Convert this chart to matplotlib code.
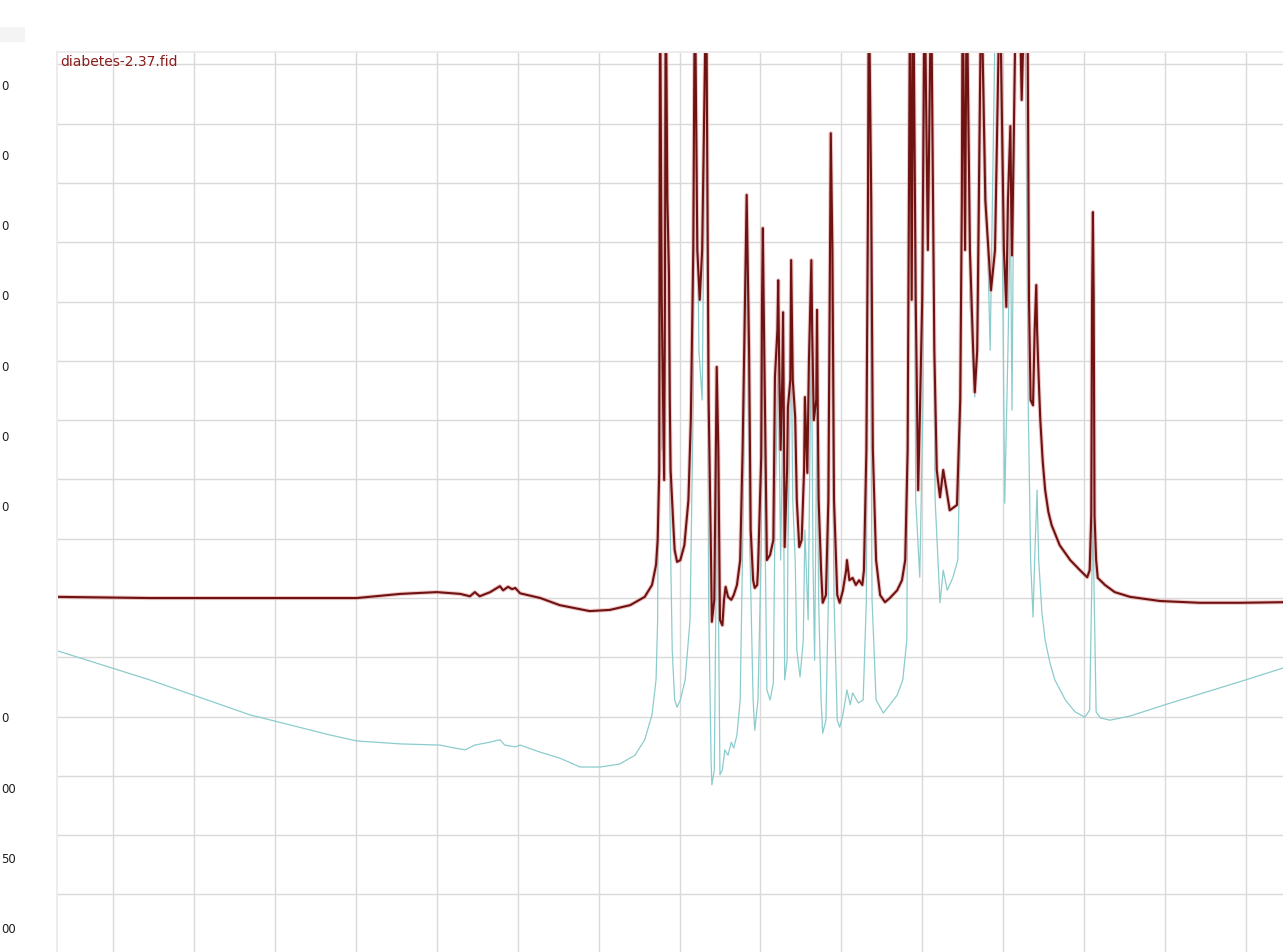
import matplotlib
matplotlib.use("Agg")
import matplotlib.pyplot as plt
from matplotlib.ticker import MultipleLocator, NullFormatter
from matplotlib.patches import Rectangle

# spectrum traces (shift in ppm, intensity in grid units)
red_shift = [12.69, 11.55, 10.31, 8.99, 8.45, 8.00, 7.71, 7.59, 7.53, 7.47, 7.34, 7.22, 7.18, 7.12, 7.07, 7.03,
             6.97, 6.72, 6.48, 6.11, 5.86, 5.61, 5.43, 5.34, 5.29, 5.27, 5.25, 5.24, 5.22, 5.20, 5.19, 5.18,
             5.17, 5.15, 5.13, 5.12, 5.11, 5.08, 5.06, 5.03, 4.99, 4.94, 4.89, 4.86, 4.83, 4.81, 4.78, 4.75,
             4.72, 4.67, 4.64, 4.61, 4.60, 4.57, 4.55, 4.54, 4.52, 4.50, 4.47, 4.45, 4.43, 4.40, 4.36, 4.33,
             4.29, 4.25, 4.22, 4.19, 4.17, 4.14, 4.12, 4.09, 4.07, 4.04, 4.03, 3.99, 3.98, 3.97, 3.96, 3.93,
             3.92, 3.88, 3.84, 3.82, 3.79, 3.78, 3.77, 3.75, 3.73, 3.72, 3.71, 3.70, 3.67, 3.66, 3.63, 3.62,
             3.61, 3.60, 3.57, 3.55, 3.52, 3.49, 3.46, 3.45, 3.42, 3.40, 3.37, 3.36, 3.34, 3.31, 3.30, 3.29,
             3.28, 3.25, 3.23, 3.19, 3.16, 3.14, 3.13, 3.11, 3.09, 3.05, 3.02, 2.98, 2.94, 2.93, 2.90, 2.86,
             2.82, 2.78, 2.74, 2.72, 2.69, 2.67, 2.66, 2.63, 2.61, 2.57, 2.52, 2.46, 2.40, 2.31, 2.25, 2.21,
             2.18, 2.15, 2.13, 2.11, 2.08, 2.05, 2.03, 2.00, 1.97, 1.93, 1.89, 1.85, 1.82, 1.78, 1.74, 1.71,
             1.66, 1.62, 1.57, 1.53, 1.51, 1.50, 1.47, 1.45, 1.41, 1.37, 1.35, 1.32, 1.30, 1.27, 1.22, 1.15,
             1.10, 1.04, 0.99, 0.96, 0.94, 0.91, 0.90, 0.89, 0.87, 0.84, 0.80, 0.77, 0.73, 0.70, 0.68, 0.66,
             0.63, 0.61, 0.59, 0.58, 0.56, 0.54, 0.51, 0.48, 0.44, 0.40, 0.30, 0.17, 0.05, -0.04, -0.07, -0.09,
             -0.10, -0.11, -0.12, -0.13, -0.15, -0.17, -0.26, -0.38, -0.57, -0.94, -1.43, -1.93, -2.46]
red_int = [0.02, 0.00, 0.00, 0.00, 0.07, 0.10, 0.07, 0.03, 0.10, 0.03, 0.10, 0.20, 0.13, 0.19, 0.15, 0.17,
           0.08, 0.00, -0.12, -0.22, -0.20, -0.12, 0.02, 0.22, 0.56, 0.98, 2.16, 10.5, 5.03, 3.00, 1.99, 5.03,
           10.5, 6.71, 5.45, 3.34, 2.16, 1.32, 0.81, 0.61, 0.64, 0.89, 1.65, 3.00, 5.87, 10.5, 5.87, 5.03,
           5.87, 10.5, 3.34, 0.64, -0.40, -0.03, 2.50, 3.90, 2.50, -0.37, -0.46, -0.03, 0.19, 0.02, -0.03, 0.05,
           0.22, 0.64, 2.50, 5.03, 6.80, 4.18, 1.15, 0.30, 0.17, 0.22, 0.47, 2.38, 5.03, 6.24, 5.03, 1.65,
           0.64, 0.73, 0.98, 3.73, 4.52, 5.36, 4.18, 2.50, 3.68, 4.82, 3.00, 0.86, 2.16, 3.22, 3.68, 5.70,
           4.64, 3.68, 3.05, 1.65, 0.86, 0.98, 2.16, 3.39, 2.11, 4.01, 5.70, 4.52, 3.00, 3.34, 4.86, 3.00,
           1.65, 0.47, -0.08, 0.05, 1.65, 5.87, 7.84, 5.87, 1.65, 0.05, -0.08, 0.13, 0.47, 0.64, 0.30, 0.34,
           0.22, 0.30, 0.22, 0.47, 2.50, 6.71, 10.5, 6.71, 2.50, 0.64, 0.05, -0.07, 0.00, 0.13, 0.30, 0.64,
           2.50, 10.5, 5.03, 10.5, 5.03, 1.82, 3.00, 5.03, 10.5, 5.87, 10.5, 4.18, 2.16, 1.70, 2.16, 1.91,
           1.48, 1.52, 1.57, 3.34, 6.71, 10.5, 5.87, 10.5, 5.87, 4.18, 3.47, 4.18, 6.71, 10.5, 6.71, 5.19,
           5.87, 10.5, 5.87, 4.91, 6.71, 7.96, 6.71, 5.78, 7.55, 10.5, 10.5, 8.40, 10.5, 10.5, 5.03, 3.34,
           3.25, 4.52, 5.28, 4.52, 3.70, 3.00, 2.30, 1.82, 1.45, 1.23, 0.89, 0.64, 0.47, 0.35, 0.47, 1.40,
           5.03, 6.51, 5.03, 1.40, 0.64, 0.34, 0.22, 0.10, 0.02, -0.05, -0.08, -0.08, -0.07]

cyan_shift = [12.69, 11.55, 10.31, 9.32, 8.99, 8.45, 7.96, 7.78, 7.65, 7.53, 7.34, 7.22, 7.16, 7.03, 6.97, 6.72,
              6.48, 6.23, 5.98, 5.74, 5.55, 5.43, 5.34, 5.29, 5.27, 5.24, 5.22, 5.17, 5.14, 5.12, 5.09, 5.06,
              5.03, 4.99, 4.93, 4.87, 4.83, 4.81, 4.76, 4.72, 4.67, 4.64, 4.61, 4.60, 4.57, 4.55, 4.54, 4.52,
              4.50, 4.47, 4.44, 4.40, 4.36, 4.33, 4.29, 4.25, 4.22, 4.17, 4.13, 4.09, 4.07, 4.03, 3.99, 3.97,
              3.94, 3.92, 3.88, 3.84, 3.82, 3.78, 3.75, 3.72, 3.70, 3.67, 3.66, 3.62, 3.60, 3.57, 3.55, 3.51,
              3.47, 3.45, 3.41, 3.37, 3.35, 3.33, 3.30, 3.28, 3.25, 3.23, 3.19, 3.16, 3.13, 3.09, 3.05, 3.02,
              2.98, 2.93, 2.89, 2.86, 2.79, 2.73, 2.69, 2.66, 2.62, 2.57, 2.48, 2.40, 2.31, 2.24, 2.19, 2.15,
              2.11, 2.08, 2.03, 1.99, 1.97, 1.89, 1.84, 1.78, 1.74, 1.69, 1.62, 1.56, 1.52, 1.50, 1.45, 1.41,
              1.35, 1.30, 1.27, 1.16, 1.09, 1.04, 0.98, 0.94, 0.91, 0.89, 0.85, 0.80, 0.73, 0.69, 0.66, 0.63,
              0.61, 0.58, 0.56, 0.52, 0.48, 0.42, 0.36, 0.23, 0.11, -0.01, -0.07, -0.11, -0.15, -0.20, -0.32,
              -0.57, -1.00, -1.43, -2.00, -2.46]
cyan_int = [-0.89, -1.38, -1.97, -2.31, -2.41, -2.46, -2.48, -2.53, -2.56, -2.48, -2.43, -2.39, -2.48, -2.51, -2.48, -2.60,
            -2.70, -2.85, -2.85, -2.80, -2.65, -2.39, -1.97, -1.38, -0.37, 10.5, 2.50, 10.5, 5.03, 1.65, -0.88, -1.72,
            -1.84, -1.72, -1.38, -0.37, 3.34, 10.5, 4.18, 3.34, 10.5, -0.03, -2.73, -3.15, -2.90, -0.03, 3.00, -0.03,
            -2.98, -2.90, -2.56, -2.65, -2.43, -2.53, -2.31, -1.72, 0.81, 5.87, 0.81, -1.72, -2.23, -1.72, 0.81, 5.03,
            0.81, -1.55, -1.72, -1.43, 1.32, 4.18, 0.64, 3.34, -1.38, -1.05, 0.81, 4.52, 1.65, 0.64, -0.88, -1.33,
            -0.71, 1.15, -0.37, 4.69, 0.64, -1.05, 3.34, -0.03, -1.72, -2.28, -2.06, -0.03, 6.71, -0.03, -2.06, -2.18,
            -1.97, -1.55, -1.80, -1.60, -1.77, -1.72, -0.03, 10.5, -0.03, -1.72, -1.94, -1.80, -1.64, -1.38, -0.71, 10.5,
            10.5, 1.65, 0.35, 3.34, 10.5, 10.5, 1.65, -0.08, 0.47, 0.13, 0.35, 0.64, 3.34, 10.5, 10.5, 5.03,
            3.39, 5.03, 10.5, 4.18, 10.5, 10.5, 1.60, 4.18, 6.71, 3.17, 10.5, 10.5, 10.5, 3.34, 0.64, -0.32,
            0.64, 1.82, 0.64, -0.25, -0.71, -1.10, -1.38, -1.72, -1.92, -2.01, -1.89, 1.32, -1.92, -2.02, -2.06,
            -1.99, -1.80, -1.62, -1.38, -1.18]

# what is left of the viewer's intensity scale at the window edge
axis_labels = ['0', '0', '0', '0', '0', '0', '0', '0', '00', '50', '00']
label_rows = [0, 1, 2, 3, 4, 5, 6, 9, 10, 11, 12]
title = 'diabetes-2.37.fid'

W, H = 1283, 952
fig = plt.figure(figsize=(W / 100, H / 100), dpi=100)
fig.patch.set_facecolor('white')

ax = fig.add_axes([57 / W, 0, 1 - 57 / W, 1 - 52 / H])
ax.set_xlim(12.695, -2.46)
ax.set_ylim(-5.97, 9.21)
ax.xaxis.set_major_locator(MultipleLocator(1))
ax.yaxis.set_major_locator(MultipleLocator(1))
ax.xaxis.set_major_formatter(NullFormatter())
ax.yaxis.set_major_formatter(NullFormatter())
ax.tick_params(length=0)
ax.grid(True, color='#d9d9d9', lw=1)
ax.set_axisbelow(True)
for s in ['bottom', 'right']:
    ax.spines[s].set_visible(False)
for s in ['top', 'left']:
    ax.spines[s].set_color('#ececec')
    ax.spines[s].set_linewidth(1.5)

ax.plot(cyan_shift, cyan_int, color='#8ccccc', lw=0.9)
ax.plot(red_shift, red_int, color='#e6a3a3', lw=3.0, alpha=0.6, solid_joinstyle='round')
ax.plot(red_shift, red_int, color='#6e1212', lw=1.5, solid_joinstyle='round')

ax.text(0.0025, 0.989, title, transform=ax.transAxes, ha='left', va='center',
        fontsize=10, color='#8b1d1d')

for row, lab in zip(label_rows, axis_labels):
    y = 1 - (86 + 70.33 * row) / H
    fig.text(1 / W, y, lab, ha='left', va='center', fontsize=8.5, color='#1e1e1e')

fig.patches.append(Rectangle((0, 1 - 42 / H), 25 / W, 15 / H, transform=fig.transFigure,
                             facecolor='#f4f4f4', edgecolor='none'))

fig.savefig('out.png', dpi=100, facecolor='white')
